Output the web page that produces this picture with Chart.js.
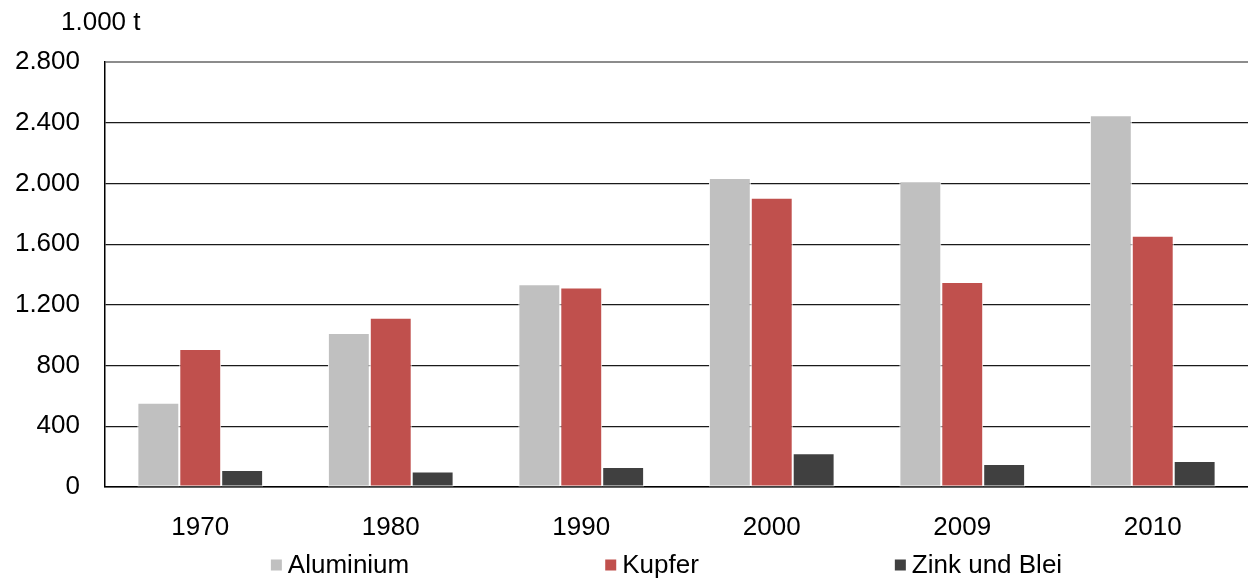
<!DOCTYPE html>
<html>
<head>
<meta charset="utf-8">
<script src="https://cdn.jsdelivr.net/npm/chart.js@4/dist/chart.umd.min.js"></script>
<style>
  html, body { margin: 0; padding: 0; background: #fff; }
  #wrap { width: 1248px; height: 580px; position: relative; }
</style>
</head>
<body>
<div id="wrap"><canvas id="chart"></canvas></div>
<script>
// Metal consumption, 1.000 t
const years = ['1970', '1980', '1990', '2000', '2009', '2010'];
const aluminium = [555, 1015, 1335, 2035, 2015, 2450];
const kupfer = [910, 1115, 1315, 1905, 1350, 1655];
const zinkBlei = [112, 102, 132, 222, 152, 172];
const yTicks = [0, 400, 800, 1200, 1600, 2000, 2400, 2800];
const unitLabel = '1.000 t';

const FONT = 'Liberation Sans, Arial, sans-serif';
const FS = 26;

// unit label top left + legend drawn below axis
const extras = {
  id: 'extras',
  afterDraw(chart) {
    const ctx = chart.ctx;
    const area = chart.chartArea;
    ctx.save();
    ctx.fillStyle = '#000';
    ctx.font = FS + 'px ' + FONT;
    ctx.textBaseline = 'middle';
    ctx.textAlign = 'left';
    ctx.fillText(unitLabel, 61, 23);

    // legend
    const box = 11, gap = 6, spacing = 196;
    const items = chart.data.datasets.map(ds => ({
      label: ds.label, color: ds.backgroundColor,
      w: box + gap + ctx.measureText(ds.label).width
    }));
    const total = items.reduce((s, it) => s + it.w, 0) + spacing * (items.length - 1);
    let x = (area.left + area.right) / 2 - 10 - total / 2;
    const y = 565;
    items.forEach(it => {
      ctx.fillStyle = it.color;
      ctx.fillRect(x, y - box / 2, box, box);
      ctx.fillStyle = '#000';
      ctx.fillText(it.label, x + box + gap, y + 1);
      x += it.w + spacing;
    });
    ctx.restore();
  }
};

new Chart(document.getElementById('chart'), {
  type: 'bar',
  data: {
    labels: years,
    datasets: [
      { label: 'Aluminium', data: aluminium, backgroundColor: '#c0c0c0' },
      { label: 'Kupfer', data: kupfer, backgroundColor: '#c0504d' },
      { label: 'Zink und Blei', data: zinkBlei, backgroundColor: '#404040' }
    ]
  },
  options: {
    responsive: true,
    maintainAspectRatio: false,
    animation: false,
    layout: { padding: { top: 62, right: -3, left: 0, bottom: 38 } },
    datasets: {
      bar: {
        categoryPercentage: 0.66,
        barPercentage: 1,
        borderColor: '#ffffff',
        borderWidth: 1,
        borderSkipped: false
      }
    },
    plugins: {
      legend: { display: false },
      tooltip: { enabled: false }
    },
    scales: {
      x: {
        grid: { display: false, drawTicks: false },
        border: { color: '#000', width: 1.5 },
        ticks: { color: '#000', padding: 25, font: { family: FONT, size: FS } },
        afterFit: s => { s.height = 55; }
      },
      y: {
        min: 0,
        max: 2800,
        afterBuildTicks: s => { s.ticks = yTicks.map(v => ({ value: v })); },
        border: { color: '#000', width: 1.5 },
        grid: {
          drawTicks: false,
          color: c => c.tick && c.tick.value === 2800 ? '#8c8c8c' : '#1a1a1a',
          lineWidth: c => c.tick && c.tick.value === 2800 ? 2 : 1.2
        },
        ticks: {
          color: '#000',
          padding: 25,
          font: { family: FONT, size: FS },
          callback: v => v.toLocaleString('de-DE')
        },
        afterFit: s => { s.width = 105; }
      }
    }
  },
  plugins: [extras]
});
</script>
</body>
</html>
